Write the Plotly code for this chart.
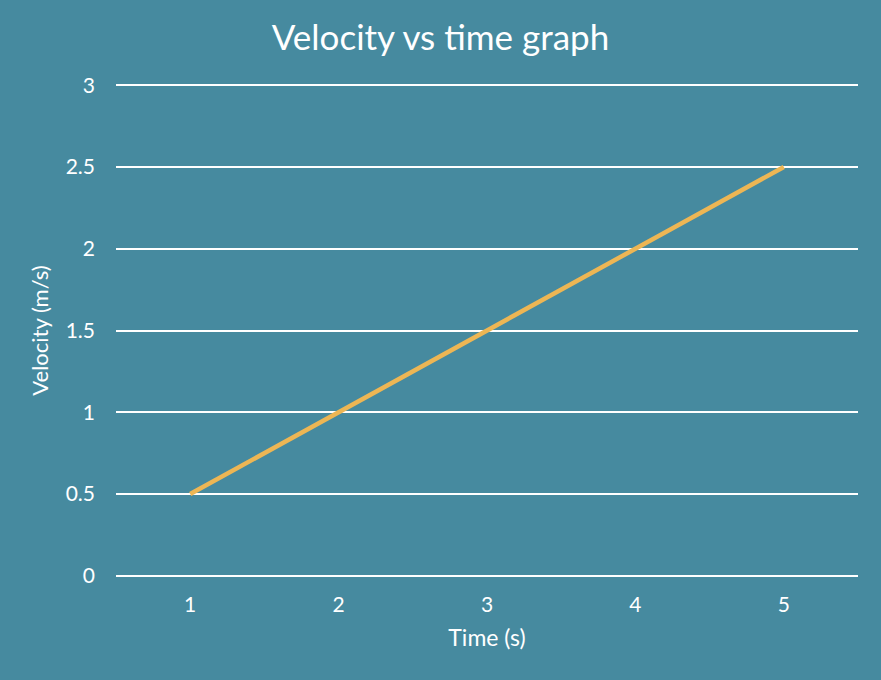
import plotly.graph_objects as go

time_s = ["1", "2", "3", "4", "5"]
velocity = [0.5, 1.0, 1.5, 2.0, 2.5]
y_ticks = [0, 0.5, 1, 1.5, 2, 2.5, 3]
y_tick_labels = ["0", "0.5", "1", "1.5", "2", "2.5", "3"]

BG = "#468A9F"
LINE = "#EDB654"
FONT = "Lato, 'Open Sans', sans-serif"

fig = go.Figure()
fig.add_trace(go.Scatter(x=time_s, y=velocity, mode="lines",
                         line=dict(color=LINE, width=4.5), hoverinfo="skip"))

fig.update_layout(
    width=881, height=680,
    paper_bgcolor=BG, plot_bgcolor=BG,
    margin=dict(l=116, r=23, t=82, b=101),
    showlegend=False,
    font=dict(family=FONT, color="white"),
    title=dict(text="Velocity vs time graph", x=0.5, xanchor="center",
               y=1 - 38 / 680, yanchor="middle",
               font=dict(size=35, color="white", family=FONT)),
)
fig.update_xaxes(type="category", range=[-0.5, 4.5], showgrid=False,
                 zeroline=False, showline=False, ticks="",
                 ticklabelstandoff=11,
                 tickfont=dict(size=21, color="white"),
                 title=dict(text="Time (s)", font=dict(size=23, color="white"), standoff=14))
fig.update_yaxes(range=[-0.02, 3.02], tickvals=y_ticks, ticktext=y_tick_labels,
                 showgrid=True, gridcolor="white", gridwidth=2,
                 zeroline=True, zerolinecolor="white", zerolinewidth=2,
                 showline=False, ticks="", ticklabelstandoff=20,
                 tickfont=dict(size=21, color="white"),
                 title=dict(text="Velocity (m/s)", font=dict(size=22, color="white"), standoff=10))

fig.write_html("out.html")
